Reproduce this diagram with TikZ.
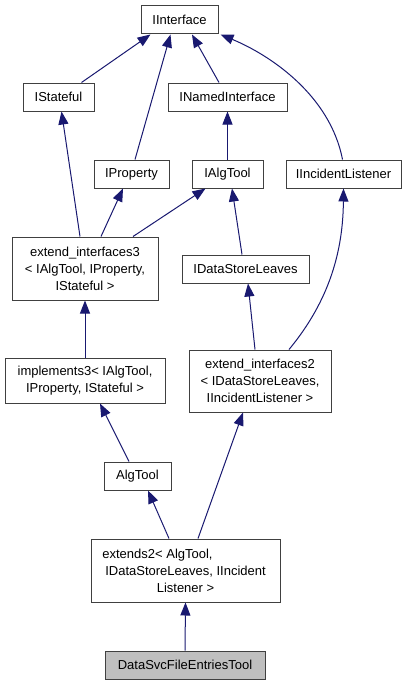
\documentclass[tikz,border=0pt]{standalone}
\usepackage{fontspec}
\setmainfont{Liberation Sans}
\usepackage{xcolor}
\usetikzlibrary{arrows.meta}
\definecolor{edgeblue}{HTML}{191970}

\begin{document}
\begin{tikzpicture}[x=1pt,y=-1pt,
  cls/.style={draw=black!75, line width=1pt, fill=white, inner sep=0pt,
    minimum height=28pt, align=center, font=\fontsize{13}{17}\selectfont},
  edge/.style={draw=edgeblue, line width=1pt,
    -{Triangle[length=13pt,width=10pt,fill=edgeblue]}}]
\useasboundingbox (0,0) rectangle (409,685);
%top row
\node[cls, minimum width=77pt] (iinterface) at (179.5,20) {IInterface};
\node[cls, minimum width=71pt] (istateful) at (58.5,97) {IStateful};
\node[cls, minimum width=119pt] (inamed) at (227.5,97) {INamedInterface};
%interfaces
\node[cls, minimum width=75pt] (iproperty) at (131.5,174) {IProperty};
\node[cls, minimum width=71pt] (ialgtool) at (227.5,174) {IAlgTool};
\node[cls, minimum width=115pt] (iincident) at (343.5,174) {IIncidentListener};
\node[cls, minimum width=127pt] (idsl) at (245.5,269) {IDataStoreLeaves};
%templates
\node[cls, minimum width=146pt, minimum height=63pt] (extif3) at (85,268.5)
  {extend\_interfaces3\\\textless{} IAlgTool, IProperty,\\IStateful \textgreater};
\node[cls, minimum width=160pt, minimum height=45pt] (impl3) at (85,380.5)
  {implements3\textless{} IAlgTool,\\IProperty, IStateful \textgreater};
\node[cls, minimum width=142pt, minimum height=62pt] (extif2) at (260,381)
  {extend\_interfaces2\\\textless{} IDataStoreLeaves,\\IIncidentListener \textgreater};
\node[cls, minimum width=67pt] (algtool) at (137.5,476) {AlgTool};
\node[cls, minimum width=189pt, minimum height=63pt] (extends2) at (185.5,570.5)
  {extends2\textless{} AlgTool,\hspace*{56pt}\\IDataStoreLeaves, IIncident\\Listener \textgreater};
\node[cls, minimum width=160pt, fill=black!25] (datasvc) at (185,665) {DataSvcFileEntriesTool};
%edges to IInterface
\draw[edge] ([xshift=23pt]istateful.north) -- ([xshift=-29pt]iinterface.south);
\draw[edge] ([xshift=3.5pt]iproperty.north) -- ([xshift=-9pt]iinterface.south);
\draw[edge] ([xshift=-8.5pt]inamed.north) -- ([xshift=12.5pt]iinterface.south);
\draw[edge] ([xshift=-1pt]iincident.north) .. controls (330,95) and (270,55) .. ([xshift=2pt]iinterface.south east);
%middle edges
\draw[edge] (ialgtool.north) -- (inamed.south);
\draw[edge] ([xshift=-5pt]extif3.north) -- ([xshift=3pt]istateful.south);
\draw[edge] ([xshift=16pt]extif3.north) -- ([xshift=-8.5pt]iproperty.south);
\draw[edge] ([xshift=48pt]extif3.north) -- ([xshift=-22pt]ialgtool.south);
\draw[edge] ([xshift=-3.5pt]idsl.north) -- ([xshift=4.5pt]ialgtool.south);
\draw[edge] ([xshift=-5pt]extif2.north) -- ([xshift=2.5pt]idsl.south);
\draw[edge] ([xshift=29pt]extif2.north) .. controls (330,300) and (343,250) .. (iincident.south);
%lower edges
\draw[edge] (impl3.north) -- (extif3.south);
\draw[edge] ([xshift=-8.5pt]algtool.north) -- ([xshift=15pt]impl3.south);
\draw[edge] ([xshift=-16.5pt]extends2.north) -- ([xshift=10.5pt]algtool.south);
\draw[edge] ([xshift=12.5pt]extends2.north) -- ([xshift=-17pt]extif2.south);
\draw[edge] (datasvc.north) -- (extends2.south);
\end{tikzpicture}
\end{document}
